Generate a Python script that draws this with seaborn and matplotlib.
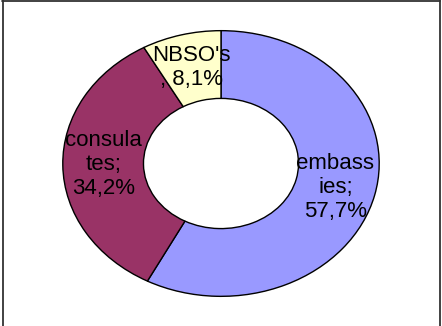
import matplotlib
matplotlib.use("Agg")
import matplotlib.pyplot as plt
import seaborn as sns
from matplotlib.lines import Line2D

categories = ["embass\nies", "consula\ntes", "NBSO's\n"]
shares = [57.7, 34.2, 8.1]
colors = ["#9999FF", "#993366", "#FFFFCC"]

sns.set_style("white")
plt.rcParams['font.family'] = ['Liberation Sans', 'DejaVu Sans']

W, H = 442, 326
fig = plt.figure(figsize=(W / 100, H / 100), dpi=100)
# outer ellipse spans x 62..380, y 30..297 (pixels)
ax = fig.add_axes([62 / W, (H - 297) / H, (380 - 62) / W, (297 - 30) / H])

labels = []
for c, s in zip(categories, shares):
    if c.endswith("\n"):
        labels.append(c + ", " + f"{s:.1f}".replace(".", ",") + "%")
    else:
        labels.append(c + ";\n" + f"{s:.1f}".replace(".", ",") + "%")

wedges, texts = ax.pie(
    shares, labels=labels, colors=colors, startangle=90, counterclock=False,
    radius=1.0, labeldistance=0.745,
    wedgeprops=dict(width=0.51, edgecolor="black", linewidth=1.0),
)
for t in texts:
    t.set_ha("center")
    t.set_va("center")
    t.set_fontsize(16)
    t.set_linespacing(1.18)
    t.set_color("black")

ax.set_aspect("auto")
ax.set_xlim(-1.005, 1.005)
ax.set_ylim(-1.005, 1.005)
ax.axis("off")

# figure frame (top, left, right)
fc = "#333333"
fig.add_artist(Line2D([2 / W, 440 / W], [1 - 0.8 / H, 1 - 0.8 / H], transform=fig.transFigure, color=fc, lw=1.3))
fig.add_artist(Line2D([2.5 / W, 2.5 / W], [0, 1], transform=fig.transFigure, color=fc, lw=1.3))
fig.add_artist(Line2D([439.5 / W, 439.5 / W], [0, 1], transform=fig.transFigure, color=fc, lw=1.3))

fig.savefig("out.png", dpi=100, facecolor="white")
